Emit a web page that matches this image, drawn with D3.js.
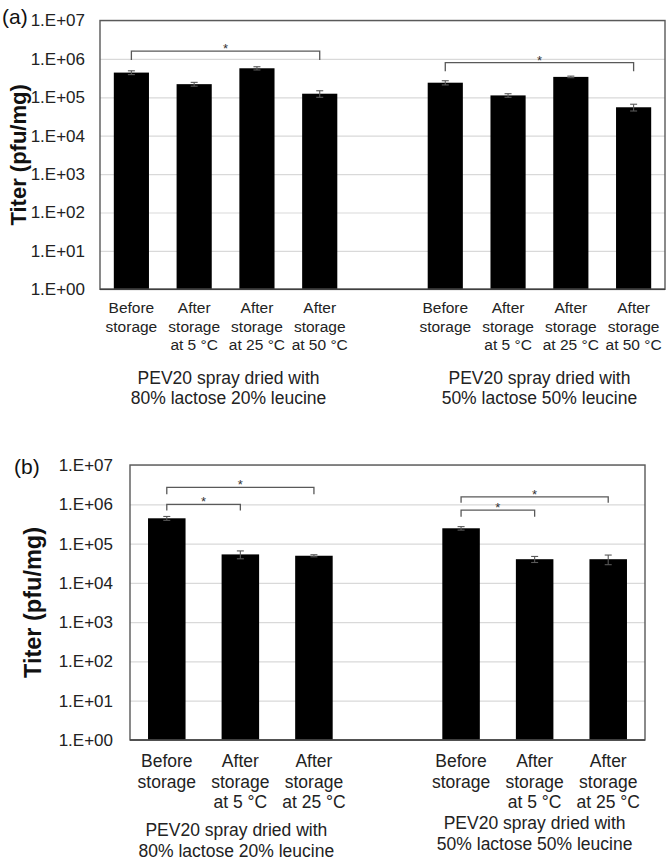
<!DOCTYPE html>
<html>
<head>
<meta charset="utf-8">
<script src="https://cdn.jsdelivr.net/npm/d3@7/dist/d3.min.js"></script>
<style>
  html, body { margin: 0; padding: 0; background: #fff; }
  svg { display: block; font-family: "Liberation Sans", Arial, sans-serif; }
</style>
</head>
<body>
<svg id="chart" width="667" height="860"></svg>
<script>
// ---------- data ----------
const catLinesA = [["Before","storage"],["After","storage","at 5 °C"],["After","storage","at 25 °C"],["After","storage","at 50 °C"]];
const catLinesB = [["Before","storage"],["After","storage","at 5 °C"],["After","storage","at 25 °C"]];
const groupLines = [["PEV20 spray dried with","80% lactose 20% leucine"],["PEV20 spray dried with","50% lactose 50% leucine"]];

// panel (a) titers (pfu/mg) and error (±)
const titerA_8020 = [4.4e5, 2.2e5, 5.7e5, 1.24e5];
const errA_8020   = [5e4, 2.5e4, 5.5e4, 2.4e4];
const titerA_5050 = [2.4e5, 1.12e5, 3.4e5, 5.5e4];
const errA_5050   = [3e4, 1.2e4, 1.6e4, 1.1e4];

// panel (b)
const titerB_8020 = [4.4e5, 5.3e4, 4.9e4];
const errB_8020   = [5e4, 1.2e4, 3e3];
const titerB_5050 = [2.45e5, 4.0e4, 4.0e4];
const errB_5050   = [2.5e4, 7e3, 1.1e4];

const tickValues = [1, 10, 100, 1e3, 1e4, 1e5, 1e6, 1e7];
const tickLabels = ["1.E+00","1.E+01","1.E+02","1.E+03","1.E+04","1.E+05","1.E+06","1.E+07"];

// significance brackets: group, from-category, to-category, bar level, leg end level (data units)
const bracketsA = [
  {g:0, from:0, to:3, top:1.6e6, leg:9.4e5},
  {g:1, from:0, to:3, top:8.0e5, leg:4.8e5}
];
const bracketsB = [
  {g:0, from:0, to:2, top:2.7e6, leg:1.8e6},
  {g:0, from:0, to:1, top:1.0e6, leg:6.9e5},
  {g:1, from:0, to:2, top:1.55e6, leg:1.1e6},
  {g:1, from:0, to:1, top:7.1e5, leg:4.8e5}
];

// ---------- drawing ----------
const svg = d3.select("#chart");

function panel(cfg) {
  const g = svg.append("g");
  const nCat = cfg.cats.length;
  const slots = [];
  for (let i = 0; i < nCat; i++) slots.push("g0c" + i);
  slots.push("gap");
  for (let i = 0; i < nCat; i++) slots.push("g1c" + i);

  const x = d3.scaleBand().domain(slots).range([cfg.x0, cfg.x1])
    .paddingInner(cfg.pad).paddingOuter(cfg.pad / 2);
  const y = d3.scaleLog().domain([1, 1e7]).range([cfg.y1, cfg.y0]);
  const w = cfg.x1 - cfg.x0;

  // gridlines
  const grid = g.append("g").attr("transform", `translate(${cfg.x0},0)`)
    .call(d3.axisLeft(y).tickValues(tickValues).tickSize(-w).tickFormat(""));
  grid.select(".domain").remove();
  grid.selectAll("line").attr("stroke", "#d9d9d9").attr("stroke-width", 1.2);

  // y tick labels
  const ya = g.append("g").attr("transform", `translate(${cfg.x0},0)`)
    .call(d3.axisLeft(y).tickValues(tickValues).tickSize(0).tickPadding(cfg.tickPad)
      .tickFormat((d, i) => tickLabels[i]));
  ya.select(".domain").remove();
  ya.selectAll("text").attr("font-size", 17).attr("fill", "#222")
    .attr("font-family", "'Liberation Sans', Arial, sans-serif");

  // bars
  const data = [];
  cfg.series.forEach((s, gi) => {
    s.vals.forEach((v, ci) => data.push({key: "g" + gi + "c" + ci, v, e: s.errs[ci]}));
  });
  g.selectAll("rect.bar").data(data).enter().append("rect")
    .attr("x", d => x(d.key)).attr("width", x.bandwidth())
    .attr("y", d => y(d.v)).attr("height", d => y(1) - y(d.v))
    .attr("fill", "#000");

  // error bars
  const eb = g.selectAll("g.err").data(data).enter().append("g")
    .attr("stroke", "#595959").attr("stroke-width", 1.1);
  const cx = d => x(d.key) + x.bandwidth() / 2;
  eb.append("line").attr("x1", cx).attr("x2", cx)
    .attr("y1", d => y(d.v + d.e)).attr("y2", d => y(d.v - d.e));
  eb.append("line").attr("x1", d => cx(d) - 3.5).attr("x2", d => cx(d) + 3.5)
    .attr("y1", d => y(d.v + d.e)).attr("y2", d => y(d.v + d.e));
  eb.append("line").attr("x1", d => cx(d) - 3.5).attr("x2", d => cx(d) + 3.5)
    .attr("y1", d => y(d.v - d.e)).attr("y2", d => y(d.v - d.e));

  // frame
  g.append("rect").attr("x", cfg.x0).attr("y", y(1e7))
    .attr("width", w).attr("height", y(1) - y(1e7))
    .attr("fill", "none").attr("stroke", "#595959").attr("stroke-width", 1.4);
  g.append("line").attr("x1", cfg.x0).attr("x2", cfg.x1).attr("y1", y(1)).attr("y2", y(1))
    .attr("stroke", "#404040").attr("stroke-width", 1.6);

  // category labels via bottom axis
  const keys = slots.filter(s => s !== "gap");
  const xa = g.append("g").attr("transform", `translate(0,${cfg.y1})`)
    .call(d3.axisBottom(x).tickValues(keys).tickSize(0).tickFormat(""));
  xa.select(".domain").remove();
  xa.selectAll(".tick text").each(function(k) {
    const ci = +k.split("c")[1];
    const t = d3.select(this).attr("y", 0).attr("dy", null)
      .attr("font-size", cfg.catSize).attr("fill", "#222")
      .attr("font-family", "'Liberation Sans', Arial, sans-serif");
    cfg.cats[ci].forEach((line, li) => {
      t.append("tspan").attr("x", 0).attr("y", cfg.catBase + li * cfg.catStep).text(line);
    });
  });

  // group labels
  groupLines.forEach((lines, gi) => {
    const c0 = x("g" + gi + "c0") + x.bandwidth() / 2;
    const c1 = x("g" + gi + "c" + (nCat - 1)) + x.bandwidth() / 2;
    const t = g.append("text").attr("text-anchor", "middle")
      .attr("font-size", 17.5).attr("fill", "#222");
    lines.forEach((line, li) => {
      t.append("tspan").attr("x", (c0 + c1) / 2 + cfg.groupDx[gi])
        .attr("y", cfg.groupBase[gi] + li * cfg.groupStep).text(line);
    });
  });

  // brackets
  cfg.brackets.forEach(b => {
    const xa1 = x("g" + b.g + "c" + b.from) + x.bandwidth() / 2;
    const xa2 = x("g" + b.g + "c" + b.to) + x.bandwidth() / 2;
    const yt = y(b.top), yl = y(b.leg);
    g.append("path")
      .attr("d", `M${xa1},${yl}V${yt}H${xa2}V${yl}`)
      .attr("fill", "none").attr("stroke", "#595959").attr("stroke-width", 1.3);
    g.append("text").attr("x", (xa1 + xa2) / 2).attr("y", yt + 2)
      .attr("text-anchor", "middle").attr("font-size", 13).attr("fill", "#333").text("*");
  });

  // y title
  g.append("text")
    .attr("transform", `translate(${cfg.titleX},${(cfg.y0 + cfg.y1) / 2}) rotate(-90)`)
    .attr("text-anchor", "middle").attr("font-size", cfg.titleSize).attr("font-weight", "bold")
    .attr("fill", "#111").text("Titer (pfu/mg)");

  // panel tag
  g.append("text").attr("x", cfg.tagX).attr("y", cfg.tagY)
    .attr("font-size", 21).attr("fill", "#111").text(cfg.tag);
}

panel({
  tag: "(a)", tagX: 2, tagY: 24,
  x0: 100, x1: 665, y0: 20.5, y1: 289.3, pad: 0.44, tickPad: 15,
  cats: catLinesA, catSize: 15.5, catBase: 24, catStep: 18.3,
  groupBase: [384, 384], groupDx: [3, 0], groupStep: 20,
  series: [{vals: titerA_8020, errs: errA_8020}, {vals: titerA_5050, errs: errA_5050}],
  brackets: bracketsA, titleX: 26, titleSize: 22
});

panel({
  tag: "(b)", tagX: 14, tagY: 474,
  x0: 130, x1: 645, y0: 465, y1: 740, pad: 0.49, tickPad: 17,
  cats: catLinesB, catSize: 17.5, catBase: 27, catStep: 20.5,
  groupBase: [836, 829], groupDx: [-4, 0], groupStep: 21,
  series: [{vals: titerB_8020, errs: errB_8020}, {vals: titerB_5050, errs: errB_5050}],
  brackets: bracketsB, titleX: 41, titleSize: 23.5
});
</script>
</body>
</html>
